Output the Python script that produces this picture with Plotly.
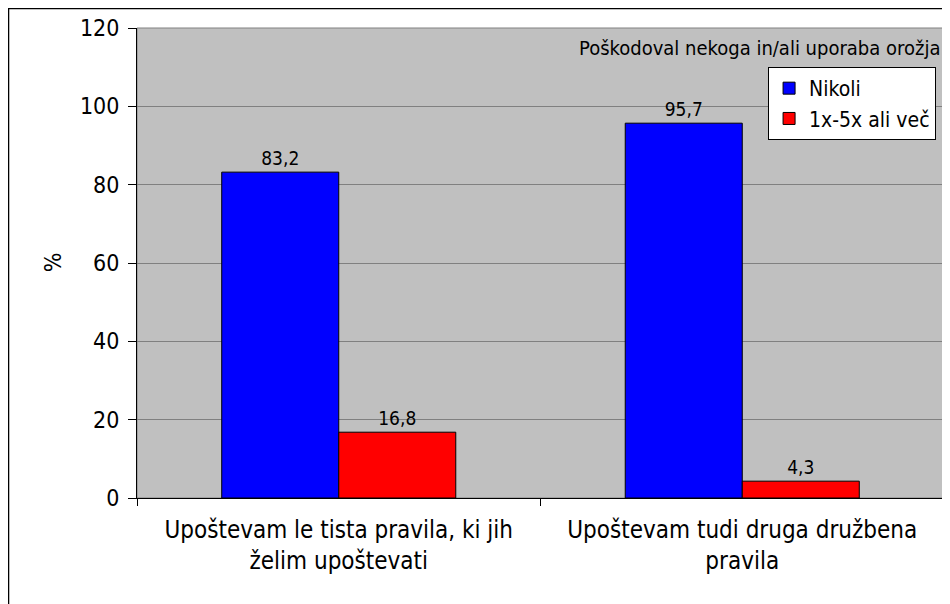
import plotly.graph_objects as go

# 数据
categories = ["Upoštevam le tista pravila, ki jih<br>želim upoštevati",
              "Upoštevam tudi druga družbena<br>pravila"]
nikoli = [83.2, 95.7]
vec = [16.8, 4.3]
labels_nikoli = ["83,2", "95,7"]
labels_vec = ["16,8", "4,3"]
legend_title = "Poškodoval nekoga in/ali uporaba orožja"

FONT = "DejaVu Sans Condensed, DejaVu Sans, sans-serif"

fig = go.Figure()
fig.add_trace(go.Bar(
    x=categories, y=nikoli, name="Nikoli",
    marker=dict(color="#0000ff", line=dict(color="black", width=1)),
    text=labels_nikoli, textposition="outside", cliponaxis=False,
    textfont=dict(family=FONT, size=19, color="black"),
))
fig.add_trace(go.Bar(
    x=categories, y=vec, name="1x-5x ali več",
    marker=dict(color="#ff0000", line=dict(color="black", width=1)),
    text=labels_vec, textposition="outside", cliponaxis=False,
    textfont=dict(family=FONT, size=19, color="black"),
))

# 页面 body 有 8px 边距，所以画布缩小 8px
fig.update_layout(
    width=942, height=596,
    margin=dict(l=129, r=6, t=20, b=106),
    paper_bgcolor="white",
    plot_bgcolor="#c0c0c0",
    barmode="group",
    bargap=0.42, bargroupgap=0,
    font=dict(family=FONT, size=20, color="black"),
    showlegend=True,
    legend=dict(
        x=0.782, y=0.917, xanchor="left", yanchor="top",
        bgcolor="white", bordercolor="black", borderwidth=1,
        font=dict(family=FONT, size=21),
        tracegroupgap=0,
    ),
    annotations=[
        dict(text=legend_title, xref="paper", yref="paper",
             x=0.997, y=0.957, xanchor="right", yanchor="middle",
             showarrow=False, font=dict(family=FONT, size=20)),
        dict(text="%", xref="paper", yref="paper",
             x=-0.104, y=0.502, xanchor="center", yanchor="middle",
             textangle=-90, showarrow=False,
             font=dict(family=FONT, size=23)),
    ],
    shapes=[
        # 外框
        dict(type="rect", xref="paper", yref="paper",
             x0=-0.1592, x1=1.005, y0=-0.3, y1=1.0415,
             line=dict(color="black", width=1.5), layer="below"),
        # 绘图区上/右边框
        dict(type="rect", xref="paper", yref="paper",
             x0=0, x1=1, y0=0, y1=1,
             line=dict(color="#808080", width=1), layer="below"),
    ],
)

fig.update_xaxes(
    showline=True, linecolor="black", linewidth=1,
    ticks="outside", tickson="boundaries", ticklen=7, tickcolor="black",
    tickfont=dict(family=FONT, size=24),
    ticklabelstandoff=10,
    showgrid=False,
)
fig.update_yaxes(
    range=[0, 120], dtick=20,
    showline=True, linecolor="black", linewidth=1,
    ticks="outside", ticklen=8, tickcolor="black",
    tickfont=dict(family=FONT, size=23),
    ticklabelstandoff=4,
    gridcolor="#808080", gridwidth=1,
    zeroline=False,
)

fig.write_html("out.html")
